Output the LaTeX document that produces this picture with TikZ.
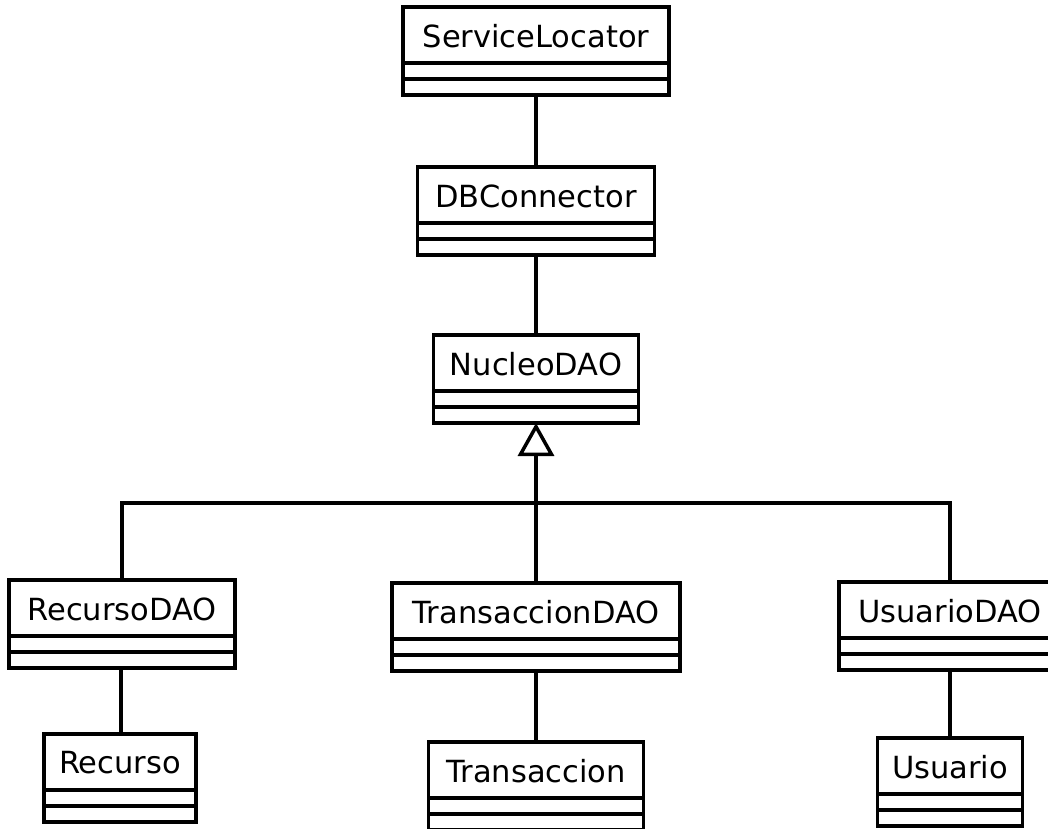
\documentclass[tikz,border=0pt]{standalone}
\usepackage{fontspec}
\setmainfont{DejaVu Sans}
\usetikzlibrary{arrows.meta,calc}

\tikzset{
  umlframe/.style={draw, line width=3.5pt, rectangle, inner sep=0pt, outer sep=0pt, fill=white},
  umlname/.style={inner sep=0pt, font=\fontsize{30.5}{30.5}\selectfont},
  umlline/.style={line width=3.5pt},
}

% #1 node name, #2 centre x, #3 top y, #4 width, #5 label
% compartments: name 56, attributes 16, operations 16
\newcommand\umlclassbox[5]{%
  \node[umlframe, minimum width=#4pt, minimum height=88pt, anchor=north] (#1) at (#2,#3) {};
  \draw[umlline] ([yshift=-56pt]#1.north west) -- ([yshift=-56pt]#1.north east);
  \draw[umlline] ([yshift=-72pt]#1.north west) -- ([yshift=-72pt]#1.north east);
  \node[umlname] (#1-label) at ([yshift=-29pt]#1.north) {#5};
}

\begin{document}
\begin{tikzpicture}[x=1pt, y=-1pt]
  \useasboundingbox (0,0) rectangle (1048,828);
  \clip (0,0) rectangle (1048,828);

  \umlclassbox{servicelocator}{536}{7}{266}{ServiceLocator}
  \umlclassbox{dbconnector}{536}{167}{237}{DBConnector}
  \umlclassbox{nucleodao}{536}{335}{205}{NucleoDAO}
  \umlclassbox{recursodao}{122}{580}{226}{RecursoDAO}
  \umlclassbox{transacciondao}{536}{583}{288}{TransaccionDAO}
  \umlclassbox{usuariodao}{950}{582}{222}{UsuarioDAO}
  \umlclassbox{recurso}{120}{734}{152}{Recurso}
  \umlclassbox{transaccion}{536}{742}{215}{Transaccion}
  \umlclassbox{usuario}{950}{738}{145}{Usuario}

  % associations
  \draw[umlline] (servicelocator.south) -- (dbconnector.north);
  \draw[umlline] (dbconnector.south) -- (nucleodao.north);
  \draw[umlline] (recursodao.south -| recurso.north) ++(1,0) coordinate (rd) -- (rd |- recurso.north);
  \draw[umlline] (transacciondao.south) -- (transaccion.north);
  \draw[umlline] (usuariodao.south) -- (usuario.north);

  % generalization tree
  \coordinate (junction) at (536,503);
  \draw[umlline] (recursodao.north) |- (junction) -| (usuariodao.north);
  \draw[umlline, -{Triangle[open, length=33pt, width=36pt, line width=3.5pt]}]
    (transacciondao.north) -- (nucleodao.south);
\end{tikzpicture}
\end{document}
